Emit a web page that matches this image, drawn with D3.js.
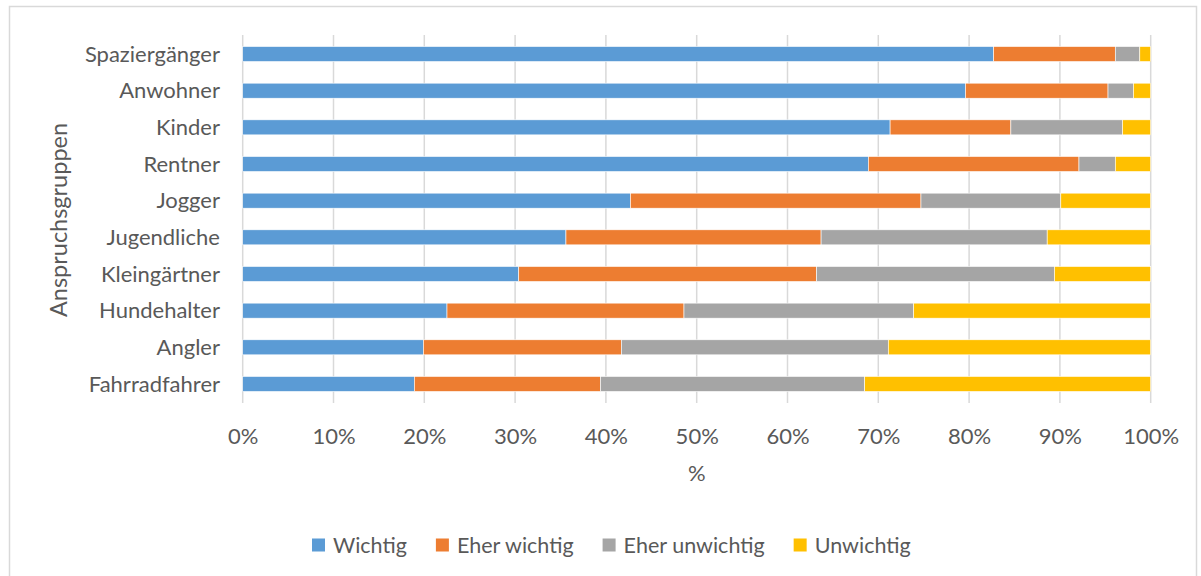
<!DOCTYPE html>
<html><head><meta charset="utf-8">
<script src="https://cdn.jsdelivr.net/npm/d3@7"></script>
<style>body{margin:0;background:#fff}svg{display:block}text{font-family:Lato,"Noto Sans",sans-serif;fill:#595959}</style>
</head><body>
<svg id="c" width="1201" height="576"></svg>
<script>
const categories = ["Spaziergänger","Anwohner","Kinder","Rentner","Jogger","Jugendliche","Kleingärtner","Hundehalter","Angler","Fahrradfahrer"];
const seriesNames = ["Wichtig","Eher wichtig","Eher unwichtig","Unwichtig"];
const wichtig       = [82.7, 79.6, 71.3, 68.9, 42.7, 35.6, 30.4, 22.5, 19.9, 18.9];
const eherWichtig   = [13.4, 15.7, 13.3, 23.2, 32.0, 28.1, 32.8, 26.1, 21.8, 20.5];
const eherUnwichtig = [ 2.7,  2.8, 12.3,  4.0, 15.4, 24.9, 26.2, 25.3, 29.4, 29.1];
const unwichtig     = [ 1.2,  1.9,  3.1,  3.9,  9.9, 11.4, 10.6, 26.1, 28.9, 31.5];
const tickValues = [0,10,20,30,40,50,60,70,80,90,100];
const colors = ["#5b9bd5","#ed7d31","#a5a5a5","#ffc000"];

const svg = d3.select("#c");
// outer border
svg.append("rect").attr("x",9.5).attr("y",6.5).attr("width",1187).attr("height",580)
  .attr("fill","none").attr("stroke","#d9d9d9").attr("stroke-width",1.5);

const x = d3.scaleLinear().domain([0,100]).range([242.7,1150.7]);
const y = d3.scaleBand().domain(categories).range([35.7,402.3]).paddingInner(0.59).paddingOuter(0.295);

// gridlines
svg.append("g").selectAll("line").data(tickValues).join("line")
  .attr("x1",d=>x(d)).attr("x2",d=>x(d)).attr("y1",35).attr("y2",403)
  .attr("stroke","#d9d9d9").attr("stroke-width",1.5);

const rows = categories.map((c,i)=>({cat:c, vals:[wichtig[i],eherWichtig[i],eherUnwichtig[i],unwichtig[i]]}));
const stackData = rows.map(r=>{const o={cat:r.cat}; seriesNames.forEach((s,j)=>o[s]=r.vals[j]); return o;});
const stacked = d3.stack().keys(seriesNames)(stackData);

svg.append("g").selectAll("g").data(stacked).join("g")
  .attr("fill",(d,i)=>colors[i])
  .selectAll("rect").data(d=>d).join("rect")
  .attr("x",d=>x(d[0])).attr("width",d=>Math.min(x(d[1]),x(100))-x(d[0]))
  .attr("y",d=>y(d.data.cat)).attr("height",y.bandwidth())
  .attr("stroke","#fff").attr("stroke-width",0.6);

// category labels
svg.append("g").selectAll("text").data(categories).join("text")
  .attr("x",220).attr("y",d=>y(d)+y.bandwidth()/2).attr("dy","0.35em")
  .attr("text-anchor","end").style("font-size","22px").text(d=>d);

// x tick labels
const xAxis = svg.append("g").attr("transform","translate(0,436)")
  .call(d3.axisBottom(x).tickValues(tickValues).tickFormat(d=>d+"%").tickSize(0).tickPadding(0));
xAxis.select(".domain").remove();
xAxis.selectAll("text").attr("dy","0.35em").style("font-size","22px").style("font-family","Lato,sans-serif").attr("fill","#595959");

// axis titles
svg.append("text").attr("x",696.7).attr("y",473).attr("dy","0.35em").attr("text-anchor","middle")
  .style("font-size","22px").text("%");
svg.append("text").attr("transform","translate(67,220) rotate(-90)")
  .attr("text-anchor","middle").style("font-size","23.5px").text("Anspruchsgruppen");

// legend
const leg = svg.append("g");
let lx = 312;
seriesNames.forEach((s,i)=>{
  const g = leg.append("g").attr("transform",`translate(${lx},545)`);
  g.append("rect").attr("x",0).attr("y",-6.5).attr("width",13).attr("height",13).attr("fill",colors[i]);
  const t = g.append("text").attr("x",21).attr("y",0).attr("dy","0.35em").style("font-size","21.5px").text(s);
  const w = t.node().getComputedTextLength();
  lx += 21 + w + 29;
});
</script>
</body></html>
